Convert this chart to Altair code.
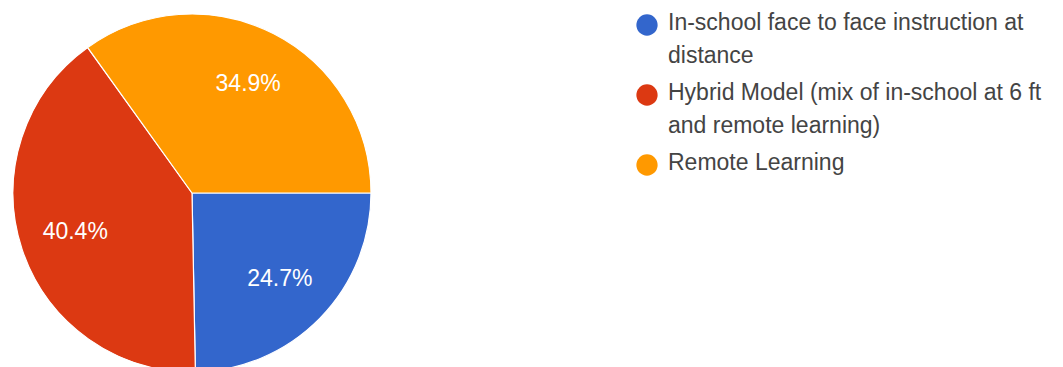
import math
import altair as alt
import pandas as pd

categories = [
    "In-school face to face instruction at distance",
    "Hybrid Model (mix of in-school at 6 ft and remote learning)",
    "Remote Learning",
]
percent = [24.7, 40.4, 34.9]
pct_labels = ["24.7%", "40.4%", "34.9%"]
legend_text = [
    "In-school face to face instruction at\ndistance",
    "Hybrid Model (mix of in-school at 6 ft\nand remote learning)",
    "Remote Learning",
]
colors = ["#3366cc", "#dc3912", "#ff9900"]
order = [0, 1, 2]

FONT = "Liberation Sans"

df = pd.DataFrame({"category": categories, "percent": percent,
                   "label": pct_labels, "order": order})
leg = pd.DataFrame({"category": categories, "text": legend_text, "row": order})

color_scale = alt.Scale(domain=categories, range=colors)

base = alt.Chart(df).encode(
    theta=alt.Theta("percent:Q", stack=True,
                    scale=alt.Scale(range=[math.pi / 2, math.pi / 2 + 2 * math.pi])),
    order=alt.Order("order:Q"),
    color=alt.Color("category:N", scale=color_scale, legend=None),
)

pie = base.mark_arc(outerRadius=179, stroke="white", strokeWidth=1.2).encode(
    x=alt.value(184), y=alt.value(185)
)
pie_text = base.mark_text(radius=123, fontSize=23, font=FONT).encode(
    x=alt.value(184), y=alt.value(185),
    text="label:N", color=alt.value("white")
)

yscale = alt.Scale(domain=[0, 2], range=[17, 157])
dots = alt.Chart(leg).mark_circle(size=452, opacity=1).encode(
    x=alt.value(639),
    y=alt.Y("row:Q", scale=yscale, axis=None),
    color=alt.Color("category:N", scale=color_scale, legend=None),
)
leg_text = alt.Chart(leg).mark_text(
    align="left", baseline="alphabetic", dy=5, lineBreak="\n", lineHeight=33,
    fontSize=23, font=FONT, color="#444444"
).encode(
    x=alt.value(660),
    y=alt.Y("row:Q", scale=yscale, axis=None),
    text="text:N",
)

chart = alt.layer(pie, pie_text, dots, leg_text).properties(
    width=1047, height=359, padding=0,
    autosize=alt.AutoSizeParams(type="none"),
).configure_view(stroke=None)

chart.save("out.html", embed_options={"renderer": "svg", "actions": False})
